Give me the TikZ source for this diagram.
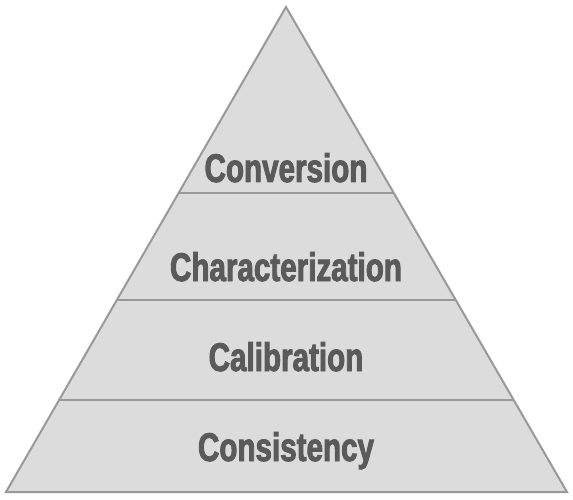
\documentclass[tikz,border=0pt]{standalone}
\usepackage{fontspec}
\setmainfont{Liberation Sans}
\newfontfamily\pyrfont[FakeStretch=0.74,BoldFeatures={FakeBold=2.2}]{Liberation Sans}
\usetikzlibrary{calc}
\definecolor{pyrfill}{HTML}{DCDCDD}
\definecolor{pyredge}{HTML}{999999}
\definecolor{pyrtext}{HTML}{5A5A5A}
\tikzset{
  pyr/.style={draw=pyredge,line width=2pt,line join=miter},
  layer/.style={draw=pyredge,line width=2pt},
  lbl/.style={anchor=base,text=pyrtext,font=\pyrfont\bfseries\fontsize{40}{40}\selectfont,inner sep=0pt}
}

\begin{document}
\begin{tikzpicture}[x=1pt,y=-1pt]
\useasboundingbox (0,0) rectangle (573,500);
\coordinate (apex) at (286,7);
\coordinate (bl) at (6,492);
\coordinate (br) at (567,492);
% the pyramid
\draw[pyr,fill=pyrfill] (apex)--(bl)--(br)--cycle;
% layer borders
\coordinate (l1) at ($(apex)!0.3835!(bl)$);
\coordinate (r1) at ($(apex)!0.3835!(br)$);
\coordinate (l2) at ($(apex)!0.604!(bl)$);
\coordinate (r2) at ($(apex)!0.604!(br)$);
\coordinate (l3) at ($(apex)!0.810!(bl)$);
\coordinate (r3) at ($(apex)!0.810!(br)$);
\draw[layer] (l1)--(r1) (l2)--(r2) (l3)--(r3);
% labels
\path
(286,182) node[lbl] (conv) {Conversion}
(286,281) node[lbl] (char) {Characterization}
(286,371) node[lbl] (calib) {Calibration}
(286,461) node[lbl] (cons) {Consistency}
;
\end{tikzpicture}
\end{document}
